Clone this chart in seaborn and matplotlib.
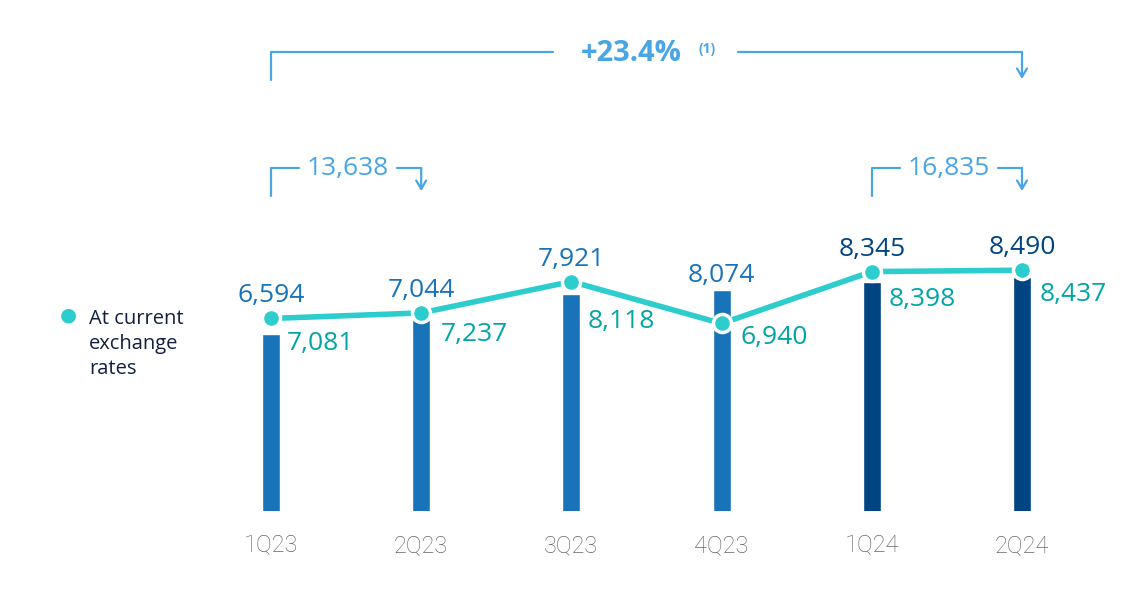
import numpy as np
import matplotlib
matplotlib.use("Agg")
import matplotlib.pyplot as plt
import matplotlib.transforms as mtrans
import seaborn as sns

quarters = ["1Q23", "2Q23", "3Q23", "4Q23", "1Q24", "2Q24"]
bar_values = [6594, 7044, 7921, 8074, 8345, 8490]
line_values = [7081, 7237, 8118, 6940, 8398, 8437]
year_of_bar = ["2023", "2023", "2023", "2023", "2024", "2024"]
half_totals = ["13,638", "16,835"]
growth_label = "+23.4%"
legend_lines = ["At current", "exchange", "rates"]

sns.set_theme(style="white")
plt.rcParams["font.family"] = ["Open Sans", "DejaVu Sans"]

W, H = 1146, 594
AX_H = 511
fig = plt.figure(figsize=(W / 100, H / 100), dpi=100)
ax = fig.add_axes([0, (H - AX_H) / H, 1, AX_H / H])
ax2 = ax.twinx()

bar_colors = {"2023": "#1973B8", "2024": "#004481"}
line_color = "#2DCCCD"
line_text = "#02A5A5"
bracket = "#49A5E6"

x = np.arange(len(quarters))
sns.barplot(x=x, y=bar_values, hue=year_of_bar, palette=bar_colors,
            width=0.12, dodge=False, legend=False, ax=ax, saturation=1)
sns.lineplot(x=x, y=line_values, color=line_color, linewidth=4, ax=ax2,
             marker="o", markersize=13, markeredgecolor="white",
             markeredgewidth=2.5, markerfacecolor=line_color, zorder=5)

spacing = 150.2
xlim = (-271 / spacing, (W - 271) / spacing)
bar_v0, bar_scale = 600, 0.0296
line_v0, line_scale = 1673, 0.0356
for a in (ax, ax2):
    a.set_xlim(*xlim)
    a.set_yticks([])
    a.set_ylabel("")
    for s in a.spines.values():
        s.set_visible(False)
ax.set_ylim(bar_v0, bar_v0 + AX_H / bar_scale)
ax2.set_ylim(line_v0, line_v0 + AX_H / line_scale)
ax.set_xticks(x)
ax.set_xticklabels(quarters, fontsize=17, color="#666666",
                   family=["Roboto", "DejaVu Sans"], fontweight="light")
ax.tick_params(axis="x", length=0, pad=16.5)
ax2.tick_params(axis="both", length=0, labelright=False)

PT = 0.72  # points per pixel at 100 dpi
tr_bar = mtrans.blended_transform_factory(ax.transData, ax.transAxes)

# bar value labels: baseline 8 px above the higher of bar top / marker top
for i in range(len(quarters)):
    c = bar_colors[year_of_bar[i]]
    bar_top = (bar_values[i] - bar_v0) * bar_scale
    mark_top = (line_values[i] - line_v0) * line_scale + 8
    top_px = max(bar_top, mark_top)
    ax.annotate(f"{bar_values[i]:,}", (x[i], top_px / AX_H), xycoords=tr_bar,
                xytext=(0, 8 * PT), textcoords="offset points",
                ha="center", va="baseline", fontsize=19, color=c, zorder=6)

# line value labels (offsets in px: right, down to baseline)
line_dx = [16, 20, 16, 19, 17, 18]
line_dy = [32, 28, 46, 21, 34, 31]
for i in range(len(quarters)):
    ax2.annotate(f"{line_values[i]:,}", (x[i], line_values[i]),
                 xytext=(line_dx[i] * PT, -line_dy[i] * PT),
                 textcoords="offset points", ha="left", va="baseline",
                 fontsize=19, color=line_text, zorder=6)

# legend
def fy(p):
    return 1 - p / H

fig.text(68 / W, fy(315), "●", color=line_color, fontsize=14,
         ha="center", va="center", family="DejaVu Sans")
for k, t in enumerate(legend_lines):
    fig.text(89 / W, fy(324 + 25 * k), t, color="#121F3F", fontsize=14.5,
             ha="left", va="baseline")

# brackets
tr = mtrans.blended_transform_factory(ax.transData, fig.transFigure)

def arrow_down(xv, y0, y1):
    ax.annotate("", xy=(xv, fy(y1)), xytext=(xv, fy(y0)), xycoords=tr,
                textcoords=tr,
                arrowprops=dict(arrowstyle="->,head_length=0.5,head_width=0.3",
                                color=bracket, lw=1.6, shrinkA=0, shrinkB=0))

def px2x(p):
    return (p - 271) / spacing

# overall growth bracket
ax.plot([0, 0, px2x(553)], [fy(80), fy(52), fy(52)], color=bracket, lw=1.6,
        transform=tr, clip_on=False)
ax.plot([px2x(738), 5], [fy(52), fy(52)], color=bracket, lw=1.6,
        transform=tr, clip_on=False)
arrow_down(5, 52, 79)
fig.text(631 / W, fy(61), growth_label, color=bracket, fontsize=21,
         fontweight="bold", ha="center", va="baseline")
fig.text(707 / W, fy(53), "(1)", color=bracket, fontsize=10,
         fontweight="bold", ha="center", va="baseline")

# half-year brackets
for (xl, xr, label) in [(0, 1, half_totals[0]), (4, 5, half_totals[1])]:
    xl_px = 271 + xl * spacing
    xr_px = 271 + xr * spacing
    ax.plot([xl, xl, px2x(xl_px + 28)], [fy(196), fy(168), fy(168)],
            color=bracket, lw=1.6, transform=tr, clip_on=False)
    ax.plot([px2x(xr_px - 24), xr], [fy(168), fy(168)], color=bracket,
            lw=1.6, transform=tr, clip_on=False)
    arrow_down(xr, 168, 191)
    fig.text((xl_px + xr_px) / 2 / W + 2 / W, fy(175), label, color=bracket,
             fontsize=19, ha="center", va="baseline")

fig.savefig("out.png", dpi=100)
